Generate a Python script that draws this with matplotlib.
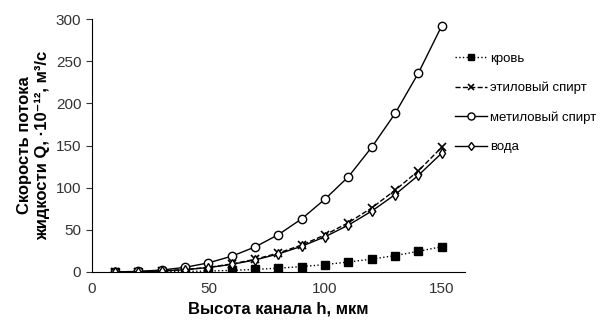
import matplotlib.pyplot as plt

plt.rcParams['font.family'] = ['Liberation Sans', 'DejaVu Sans']

# channel height, um
h = [10, 20, 30, 40, 50, 60, 70, 80, 90, 100, 110, 120, 130, 140, 150]

# flow rate, 1e-12 m^3/s
blood = [0.01, 0.07, 0.24, 0.57, 1.1, 1.9, 3.0, 4.5, 6.4, 8.8, 11.8, 15.3, 19.4, 24.5, 30]
ethanol = [0.04, 0.35, 1.2, 2.8, 5.5, 9.5, 15, 22.5, 32, 44, 58.5, 76, 97, 120, 148]
methanol = [0.1, 0.7, 2.3, 5.5, 10.8, 18.7, 29.7, 44.3, 63.1, 86.5, 113, 148, 188, 236, 292]
water = [0.04, 0.33, 1.1, 2.7, 5.2, 9.0, 14.3, 21.4, 30.5, 41.8, 55.6, 72.2, 91.8, 114.7, 141]

fig = plt.figure(figsize=(6.16, 3.23), dpi=100)
ax = fig.add_axes([0.149, 0.158, 0.606, 0.783])

ax.plot(h, blood, ':', color='black', lw=1, marker='s', ms=5.5, label='кровь')
ax.plot(h, ethanol, '--', color='black', lw=1, marker='x', ms=5.5, mew=1.2, label='этиловый спирт')
ax.plot(h, methanol, '-', color='black', lw=1, marker='o', ms=6, mfc='white', label='метиловый спирт')
ax.plot(h, water, '-', color='black', lw=1, marker='d', ms=5, mfc='white', label='вода')

ax.set_xlim(0, 160)
ax.set_ylim(0, 300)
ax.set_xticks([0, 50, 100, 150])
ax.set_yticks([0, 50, 100, 150, 200, 250, 300])
ax.tick_params(labelsize=11, length=4, direction='out', colors='#333333')
ax.tick_params(axis='x', length=0, pad=7)
ax.spines['top'].set_visible(False)
ax.spines['right'].set_visible(False)

ax.set_xlabel('Высота канала h, мкм', fontsize=12, fontweight='bold')
ax.set_ylabel('Скорость потока\nжидкости Q, ·10⁻¹², м³/с', fontsize=12, fontweight='bold')

ax.legend(loc='upper left', bbox_to_anchor=(0.973, 0.868), frameon=False, fontsize=9.5,
          borderaxespad=0, borderpad=0, markerscale=0.85,
          handlelength=2.4, labelspacing=1.3, handletextpad=0.25)

plt.savefig('out.png', dpi=100)
